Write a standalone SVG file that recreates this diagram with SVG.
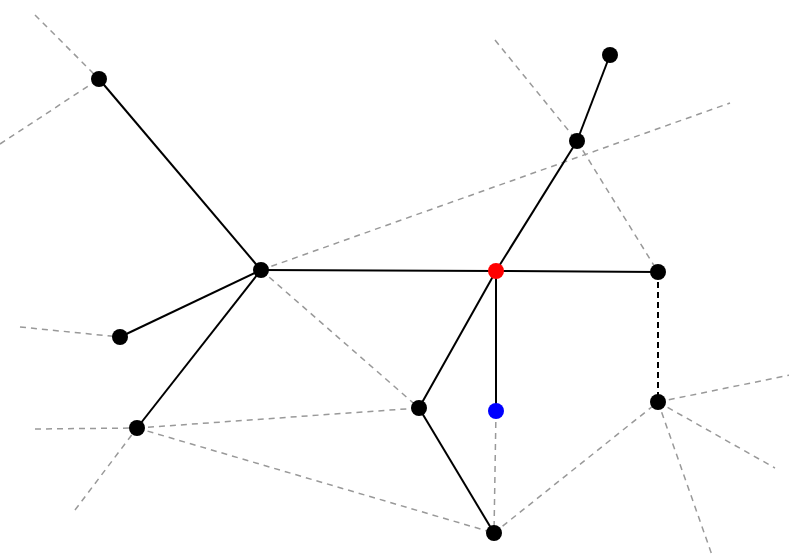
<svg xmlns="http://www.w3.org/2000/svg" width="789" height="557" viewBox="0 0 789 557">
<style>
.g{stroke:#999;stroke-width:1.5;stroke-dasharray:6,5;fill:none}
.s{stroke:#000;stroke-width:2;fill:none}
.d{stroke:#000;stroke-width:2;stroke-dasharray:6,4;fill:none}
circle{r:8}
</style>
<rect width="789" height="557" fill="#fff"/>
<g id="connectors">
<line class="g" x1="35" y1="15" x2="99" y2="79"/>
<line class="g" x1="0" y1="144" x2="99" y2="79"/>
<line class="g" x1="261" y1="270" x2="730" y2="103"/>
<line class="g" x1="261" y1="270" x2="419" y2="408"/>
<line class="g" x1="20" y1="327" x2="120" y2="337"/>
<line class="g" x1="35" y1="429" x2="137" y2="428"/>
<line class="g" x1="75" y1="510" x2="137" y2="428"/>
<line class="g" x1="137" y1="428" x2="419" y2="408"/>
<line class="g" x1="137" y1="428" x2="494" y2="533"/>
<line class="g" x1="495" y1="40" x2="577" y2="141"/>
<line class="g" x1="577" y1="141" x2="658" y2="272"/>
<line class="g" x1="496" y1="411" x2="494" y2="533"/>
<line class="g" x1="494" y1="533" x2="658" y2="402"/>
<line class="g" x1="658" y1="402" x2="790" y2="375"/>
<line class="g" x1="658" y1="402" x2="775" y2="468"/>
<line class="g" x1="658" y1="402" x2="712" y2="555"/>
<line class="s" x1="99" y1="79" x2="261" y2="270"/>
<line class="s" x1="261" y1="270" x2="120" y2="337"/>
<line class="s" x1="261" y1="270" x2="137" y2="428"/>
<line class="s" x1="261" y1="270" x2="496" y2="271"/>
<line class="s" x1="496" y1="271" x2="577" y2="141"/>
<line class="s" x1="577" y1="141" x2="610" y2="55"/>
<line class="s" x1="496" y1="271" x2="658" y2="272"/>
<line class="s" x1="496" y1="271" x2="419" y2="408"/>
<line class="s" x1="496" y1="271" x2="496" y2="411"/>
<line class="s" x1="419" y1="408" x2="494" y2="533"/>
<line class="d" x1="658" y1="272" x2="658" y2="402"/>
</g>
<g id="nA"><circle cx="99" cy="79" r="8"/></g>
<g id="nB"><circle cx="261" cy="270" r="8"/></g>
<g id="nC"><circle cx="120" cy="337" r="8"/></g>
<g id="nD"><circle cx="137" cy="428" r="8"/></g>
<g id="nE"><circle cx="496" cy="271" r="8" fill="#f00"/></g>
<g id="nF"><circle cx="577" cy="141" r="8"/></g>
<g id="nG"><circle cx="610" cy="55" r="8"/></g>
<g id="nH"><circle cx="658" cy="272" r="8"/></g>
<g id="nI"><circle cx="658" cy="402" r="8"/></g>
<g id="nJ"><circle cx="419" cy="408" r="8"/></g>
<g id="nK"><circle cx="496" cy="411" r="8" fill="#00f"/></g>
<g id="nL"><circle cx="494" cy="533" r="8"/></g>
</svg>
